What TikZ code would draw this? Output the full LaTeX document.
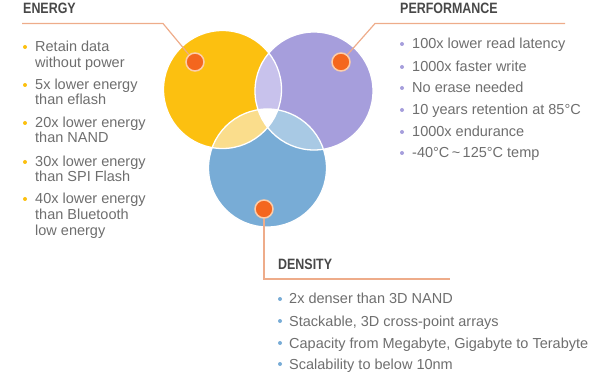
\documentclass[tikz,border=0pt]{standalone}
\usepackage{fontspec}
\setmainfont{Liberation Sans}
\newfontfamily\headfont[FakeStretch=0.83]{Liberation Sans}
\usepackage{tikz}

\definecolor{yel}{RGB}{252,192,16}
\definecolor{pur}{RGB}{166,158,220}
\definecolor{blu}{RGB}{120,172,214}
\definecolor{yelpur}{RGB}{200,194,236}
\definecolor{yelblu}{RGB}{250,221,140}
\definecolor{purblu}{RGB}{168,201,228}
\definecolor{dotor}{RGB}{244,102,30}
\definecolor{dotring}{RGB}{252,205,170}
\definecolor{linec}{RGB}{238,172,138}
\definecolor{txtc}{RGB}{110,110,110}
\definecolor{headc}{RGB}{72,72,72}

\begin{document}
\begin{tikzpicture}[x=1pt,y=-1pt,
	head/.style={anchor=base west,inner sep=0,text=headc,font=\headfont\bfseries\fontsize{15}{15}\selectfont},
	txt/.style={anchor=base west,inner sep=0,text=txtc,font=\fontsize{14.5}{16}\selectfont},
	hotdot/.style={circle,fill=dotor,draw=dotring,line width=1.5pt,minimum size=18pt,inner sep=0},
	conn/.style={draw=linec,line width=1.2pt}]
\useasboundingbox (0,0) rectangle (600,374);

\coordinate (Y) at (222.5,89.5);
\coordinate (P) at (314,91);
\coordinate (B) at (267.5,168);
\fill[yel] (Y) circle (59);
\fill[pur] (P) circle (59);
\fill[blu] (B) circle (59);
\begin{scope}
	\clip (Y) circle (59);
	\fill[yelpur] (P) circle (59);
	\fill[yelblu] (B) circle (59);
	\clip (P) circle (59);
	\fill[white] (B) circle (59);
\end{scope}
\begin{scope}
	\clip (P) circle (59);
	\fill[purblu] (B) circle (59);
	\clip (Y) circle (59);
	\fill[white] (B) circle (59);
\end{scope}
\draw[white,line width=1.3pt] (Y) circle (59) (P) circle (59) (B) circle (59);

\node[hotdot] (edot) at (195,62) {};
\node[hotdot] (pdot) at (341,62) {};
\node[hotdot] (ddot) at (264,209) {};
\coordinate (ecorn) at (163,23.5);
\coordinate (eend) at (22,23.5);
\coordinate (pcorn) at (375,23.5);
\coordinate (pend) at (565,23.5);
\coordinate (dcorn) at (264,279);
\coordinate (dend) at (450,279);
\draw[conn] (edot) -- (ecorn) -- (eend);
\draw[conn] (pdot) -- (pcorn) -- (pend);
\draw[conn] (ddot) -- (dcorn) -- (dend);

\node[head] (energy) at (23,14) {ENERGY};
\node[head] (perf) at (400,14) {PERFORMANCE};
\node[head] (dens) at (278,270) {DENSITY};

\foreach \y/\t [count=\i] in {52/Retain data,68/without power,90/5x lower energy,105/than eflash,
	128/20x lower energy,143/than NAND,167/30x lower energy,182/than SPI Flash,
	204/40x lower energy,220/than Bluetooth,236/low energy}
	\node[txt] (e\i) at (35,\y) {\t};
\foreach \y in {52,90,128,167,204}
	\fill[yel] (25,\y-5) circle (2);

\foreach \y/\t [count=\i] in {49/100x lower read latency,72/1000x faster write,93/No erase needed,
	115/10 years retention at 85°C,137/1000x endurance,158/-40°C\,\textasciitilde\,125°C temp}
{
	\node[txt] (p\i) at (412,\y) {\t};
	\fill[pur] (402,\y-5) circle (2);
}

\foreach \y/\t [count=\i] in {304/2x denser than 3D NAND,326/{Stackable, 3D cross-point arrays},
	348/{Capacity from Megabyte, Gigabyte to Terabyte},369/Scalability to below 10nm}
{
	\node[txt] (d\i) at (289,\y) {\t};
	\fill[blu] (280,\y-5) circle (2);
}
\end{tikzpicture}
\end{document}
